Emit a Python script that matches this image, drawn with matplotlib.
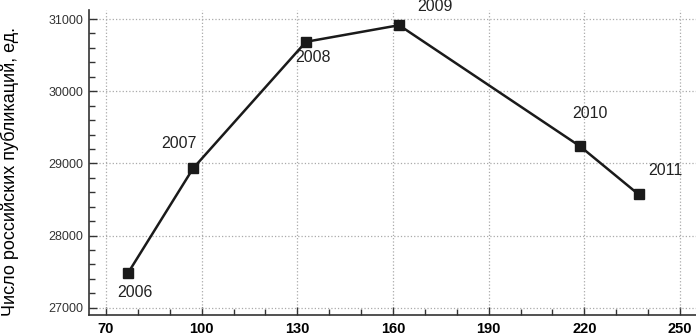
import matplotlib
matplotlib.use("Agg")
import matplotlib.pyplot as plt
from matplotlib.ticker import MultipleLocator, FixedLocator

# publications per year (x position, count)
years = ["2006", "2007", "2008", "2009", "2010", "2011"]
x_vals = [76.9, 97.3, 132.7, 161.9, 218.7, 237.0]
y_vals = [27480, 28930, 30685, 30915, 29235, 28570]
x_ticks = [70, 100, 130, 160, 190, 220, 250]

# label offsets in points
offsets = [(5, -14), (-10, 18), (5, -11), (26, 13.5), (7, 24), (19, 17)]

plt.rcParams['font.family'] = ['Liberation Sans', 'DejaVu Sans']

fig = plt.figure(figsize=(6.96, 3.35), dpi=100)
ax = fig.add_axes([0.128, 0.06, 0.872, 0.91])

ax.plot(x_vals, y_vals, color='#1a1a1a', lw=1.8, marker='s', ms=6.5, zorder=3)
for yr, x, y, off in zip(years, x_vals, y_vals, offsets):
    ax.annotate(yr, (x, y), xytext=off, textcoords='offset points',
                ha='center', va='center', fontsize=11.5, color='#222222')

ax.set_xlim(64.7, 255)
ax.set_ylim(26900, 31125)
ax.xaxis.set_major_locator(FixedLocator(x_ticks))
ax.xaxis.set_minor_locator(MultipleLocator(10))
ax.yaxis.set_major_locator(MultipleLocator(1000))
ax.yaxis.set_minor_locator(MultipleLocator(200))

ax.grid(True, which='major', color='#aaaaaa', ls=':', lw=0.9)
for s in ['top', 'right']:
    ax.spines[s].set_visible(False)
for s in ['left', 'bottom']:
    ax.spines[s].set_color('#333333')
    ax.spines[s].set_linewidth(1.2)

ax.tick_params(which='major', direction='in', length=6, width=1, color='#333333')
ax.tick_params(which='minor', direction='in', length=4, width=1, color='#333333')
ax.tick_params(axis='y', labelsize=9, pad=4, labelcolor='#333333')
ax.tick_params(axis='x', labelsize=10.5, pad=5)
for lab in ax.get_xticklabels():
    lab.set_fontweight('bold')

ax.set_ylabel("Число российских публикаций, ед.", fontsize=13)
ax.yaxis.set_label_coords(-0.115, 0.47)

fig.savefig("out.png", dpi=100)
